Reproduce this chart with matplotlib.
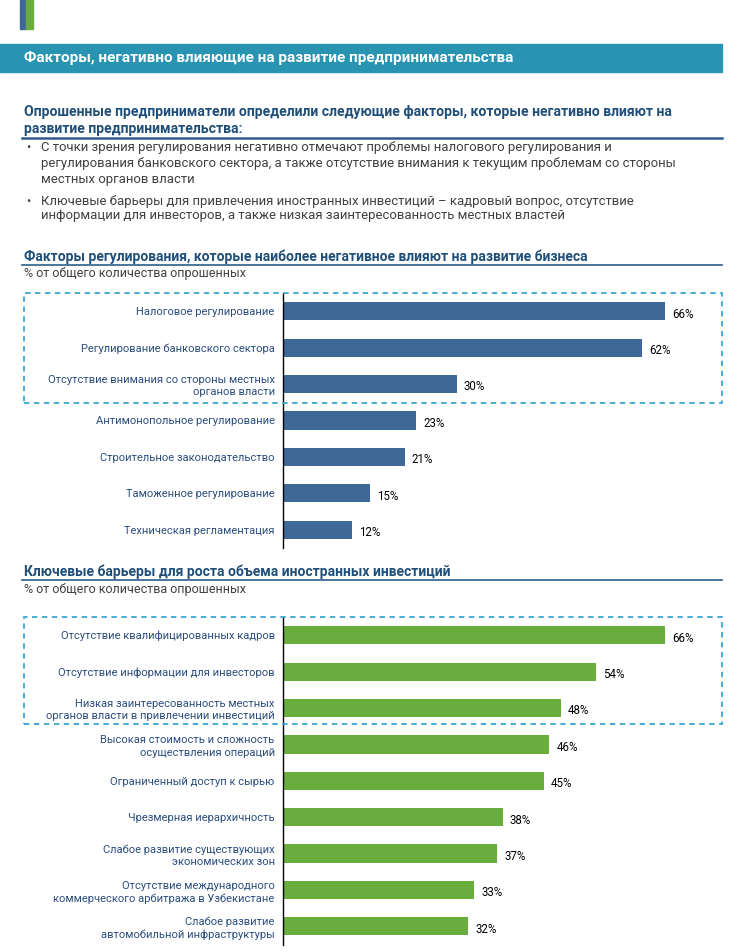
import matplotlib
matplotlib.use('Agg')
import matplotlib.pyplot as plt
from matplotlib.patches import Rectangle
from matplotlib.lines import Line2D

plt.rcParams['font.family'] = ['Roboto', 'DejaVu Sans']

# данные
reg_labels = ['Налоговое регулирование',
              'Регулирование банковского сектора',
              'Отсутствие внимания со стороны местных\nорганов власти',
              'Антимонопольное регулирование',
              'Строительное законодательство',
              'Таможенное регулирование',
              'Техническая регламентация']
reg_values = [66, 62, 30, 23, 21, 15, 12]

inv_labels = ['Отсутствие квалифицированных кадров',
              'Отсутствие информации для инвесторов',
              'Низкая заинтересованность местных\nорганов власти в привлечении инвестиций',
              'Высокая стоимость и сложность\nосуществления операций',
              'Ограниченный доступ к сырью',
              'Чрезмерная иерархичность',
              'Слабое развитие существующих\nэкономических зон',
              'Отсутствие международного\nкоммерческого арбитража в Узбекистане',
              'Слабое развитие\nавтомобильной инфраструктуры']
inv_values = [66, 54, 48, 46, 45, 38, 37, 33, 32]

W, H = 742, 952
navy = '#1F4E79'
label_col = '#2B4C7E'
text_col = '#404040'
box_col = '#3AA6D6'

fig = plt.figure(figsize=(W / 100, H / 100), dpi=100)


def fx(x):
    return x / W


def fy(y):
    return 1 - y / H


# декоративные полосы
fig.patches.append(Rectangle((fx(20), fy(29)), 6 / W, 29 / H, color='#3E6896', transform=fig.transFigure))
fig.patches.append(Rectangle((fx(26), fy(29)), 7 / W, 29 / H, color='#6AAD3F', transform=fig.transFigure))

# шапка
fig.patches.append(Rectangle((0, fy(72)), fx(722), 28 / H, color='#2894B2', transform=fig.transFigure))
fig.text(fx(24), fy(58), 'Факторы, негативно влияющие на развитие предпринимательства',
         color='white', fontsize=11, fontweight='bold', va='center')

fig.text(fx(24), fy(112), 'Опрошенные предприниматели определили следующие факторы, которые негативно влияют на',
         color=navy, fontsize=10.1, fontweight='bold', va='center')
fig.text(fx(24), fy(129), 'развитие предпринимательства:',
         color=navy, fontsize=10.1, fontweight='bold', va='center')
fig.lines.append(Line2D([fx(22), fx(722)], [fy(138), fy(138)], color='#2E5C8A', lw=1.8, transform=fig.transFigure))

bullets = [(147, '•', 'С точки зрения регулирования негативно отмечают проблемы налогового регулирования и'),
           (163, '', 'регулирования банковского сектора, а также отсутствие внимания к текущим проблемам со стороны'),
           (179, '', 'местных органов власти'),
           (201, '•', 'Ключевые барьеры для привлечения иностранных инвестиций – кадровый вопрос, отсутствие'),
           (216, '', 'информации для инвесторов, а также низкая заинтересованность местных властей')]
for y, b, t in bullets:
    if b:
        fig.text(fx(26), fy(y), b, color=text_col, fontsize=9, va='center')
    fig.text(fx(41), fy(y), t, color=text_col, fontsize=9.45, va='center')


def section(y_title, title):
    fig.text(fx(24), fy(y_title), title, color=navy, fontsize=10, fontweight='bold', va='center')
    fig.lines.append(Line2D([fx(22), fx(722)], [fy(y_title + 8), fy(y_title + 8)],
                            color='#2E5C8A', lw=1.2, transform=fig.transFigure))
    fig.text(fx(24), fy(y_title + 17), '% от общего количества опрошенных',
             color=text_col, fontsize=9, va='center')


def bars(top, labels, values, color):
    n = len(values)
    step = 36.4
    left = 283
    width = 722 - left
    ax = fig.add_axes([fx(left), fy(top + n * step), width / W, n * step / H])
    y = list(range(n))
    ax.barh(y, values, height=0.5, color=color)
    ax.set_xlim(0, width / 5.79)
    ax.set_ylim(n - 0.5, -0.5)
    ax.set_yticks(y)
    ax.set_yticklabels(labels, color=label_col, fontsize=8, linespacing=1.3)
    ax.tick_params(axis='y', length=0, pad=6)
    ax.set_xticks([])
    for s in ['top', 'right', 'bottom']:
        ax.spines[s].set_visible(False)
    ax.spines['left'].set_linewidth(1)
    ax.patch.set_alpha(0)
    for i, v in enumerate(values):
        ax.text(v + 1.2, i + 0.08, f'{v}%', va='center', fontsize=8.3, color='black')
    return ax


def dashed_box(y0, y1):
    fig.patches.append(Rectangle((fx(24), fy(y1)), fx(722) - fx(24), (y1 - y0) / H, fill=False,
                                 ls=(0, (3, 2.5)), lw=1.3, edgecolor=box_col, transform=fig.transFigure))


section(257, 'Факторы регулирования, которые наиболее негативное влияют на развитие бизнеса')
bars(293, reg_labels, reg_values, '#3E6896')
dashed_box(293, 403)

section(572, 'Ключевые барьеры для роста объема иностранных инвестиций')
bars(617, inv_labels, inv_values, '#6AAD3F')
dashed_box(617, 724)

fig.savefig('out.png', dpi=100)
